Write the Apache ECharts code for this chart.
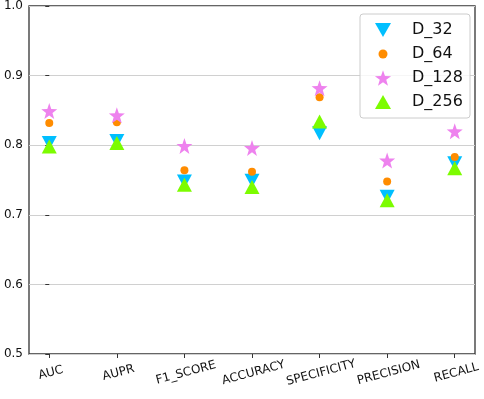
<!DOCTYPE html>
<html>
<head>
<meta charset="utf-8">
<script src="https://cdn.jsdelivr.net/npm/echarts@6/dist/echarts.min.js"></script>
<style>
  html, body { margin: 0; padding: 0; background: #fff; }
  #chart { width: 484px; height: 399px; }
</style>
</head>
<body>
<div id="chart"></div>
<script>
const categories = ['AUC', 'AUPR', 'F1_SCORE', 'ACCURACY', 'SPECIFICITY', 'PRECISION', 'RECALL']
const d32 = [0.803, 0.806, 0.748, 0.749, 0.817, 0.726, 0.774]
const d64 = [0.832, 0.833, 0.764, 0.762, 0.869, 0.748, 0.783]
const d128 = [0.849, 0.843, 0.799, 0.796, 0.882, 0.778, 0.820]
const d256 = [0.798, 0.803, 0.743, 0.740, 0.834, 0.721, 0.767]
const yTicks = [0.5, 0.6, 0.7, 0.8, 0.9, 1.0]

function starPath(cx, cy, R, r) {
  let s = ''
  for (let k = 0; k < 10; k++) {
    const rad = k % 2 ? r : R
    const a = -Math.PI / 2 + k * Math.PI / 5
    s += (k ? ' L' : 'M') + (cx + rad * Math.cos(a)).toFixed(2) + ',' + (cy + rad * Math.sin(a)).toFixed(2)
  }
  return 'path://' + s + ' Z'
}

// marker shapes
const triDown = 'path://M0,0 L10,0 L5,9 Z'
const triUp = 'path://M5,0 L10,9 L0,9 Z'
const star = starPath(50, 50, 50, 20)

// legend icons drawn in a fixed 48x18 box (corner moves pin the box)
const box = 'path://M0,0 M48,18 '
const iconDown = box + 'M16,2 L32,2 L24,16 Z'
const iconUp = box + 'M24,2 L32,16 L16,16 Z'
const iconDot = box + 'M28.5,9 A4.5,4.5 0 1,1 19.5,9 A4.5,4.5 0 1,1 28.5,9 Z'
const iconStar = box + starPath(24, 9.8, 8.5, 3.4).slice(7)

const toPoints = arr => arr.map((v, i) => [i, v])

const chart = echarts.init(document.getElementById('chart'))
const font = 'DejaVu Sans'

chart.setOption({
  backgroundColor: '#fff',
  animation: false,
  grid: {
    show: true,
    left: 29, right: 9, top: 6, bottom: 45,
    borderColor: '#333',
    borderWidth: 1.3
  },
  legend: {
    orient: 'vertical',
    left: 354, top: 16,
    itemWidth: 48, itemHeight: 18,
    itemGap: 6,
    symbolKeepAspect: false,
    selectedMode: false,
    textStyle: { fontFamily: font, fontSize: 16, color: '#111' },
    data: [
      { name: 'D_32', icon: iconDown },
      { name: 'D_64', icon: iconDot },
      { name: 'D_128', icon: iconStar },
      { name: 'D_256', icon: iconUp }
    ],
    z: 5
  },
  graphic: [{
    type: 'rect',
    shape: { x: 360, y: 14, width: 110, height: 104, r: 3 },
    style: { fill: 'rgba(255,255,255,0.8)', stroke: '#ccc', lineWidth: 1 },
    z: 4
  }],
  xAxis: {
    type: 'value',
    min: -0.3,
    max: 6.3,
    splitLine: { show: false },
    axisLine: { show: false },
    axisTick: {
      show: true,
      customValues: categories.map((c, i) => i),
      length: 4,
      lineStyle: { color: '#333' }
    },
    axisLabel: {
      customValues: categories.map((c, i) => i),
      formatter: v => categories[Math.round(v)],
      rotate: 15,
      align: 'center',
      verticalAlign: 'top',
      margin: 13,
      fontFamily: font,
      fontSize: 12,
      color: '#111'
    }
  },
  yAxis: {
    type: 'value',
    min: 0.5,
    max: 1.0,
    interval: 0.1,
    axisLine: { show: false },
    axisTick: { show: true, length: 4, lineStyle: { color: '#333' } },
    splitLine: { show: true, lineStyle: { color: '#d0d0d0', width: 1.2 } },
    axisLabel: {
      customValues: yTicks,
      formatter: v => v.toFixed(1),
      fontFamily: font,
      fontSize: 12,
      color: '#111',
      margin: 6
    }
  },
  series: [
    {
      name: 'D_32', type: 'scatter', symbol: triDown, symbolSize: [15, 14],
      itemStyle: { color: '#00BFFF', opacity: 1 }, z: 2,
      data: toPoints(d32)
    },
    {
      name: 'D_64', type: 'scatter', symbol: 'circle', symbolSize: 8,
      itemStyle: { color: '#FF8C00', opacity: 1 }, z: 3,
      data: toPoints(d64)
    },
    {
      name: 'D_128', type: 'scatter', symbol: star, symbolSize: 16,
      itemStyle: { color: '#EE82EE', opacity: 1 }, z: 4,
      data: toPoints(d128)
    },
    {
      name: 'D_256', type: 'scatter', symbol: triUp, symbolSize: [15, 14],
      itemStyle: { color: '#7CFC00', opacity: 1 }, z: 5,
      data: toPoints(d256)
    }
  ]
})
</script>
</body>
</html>
